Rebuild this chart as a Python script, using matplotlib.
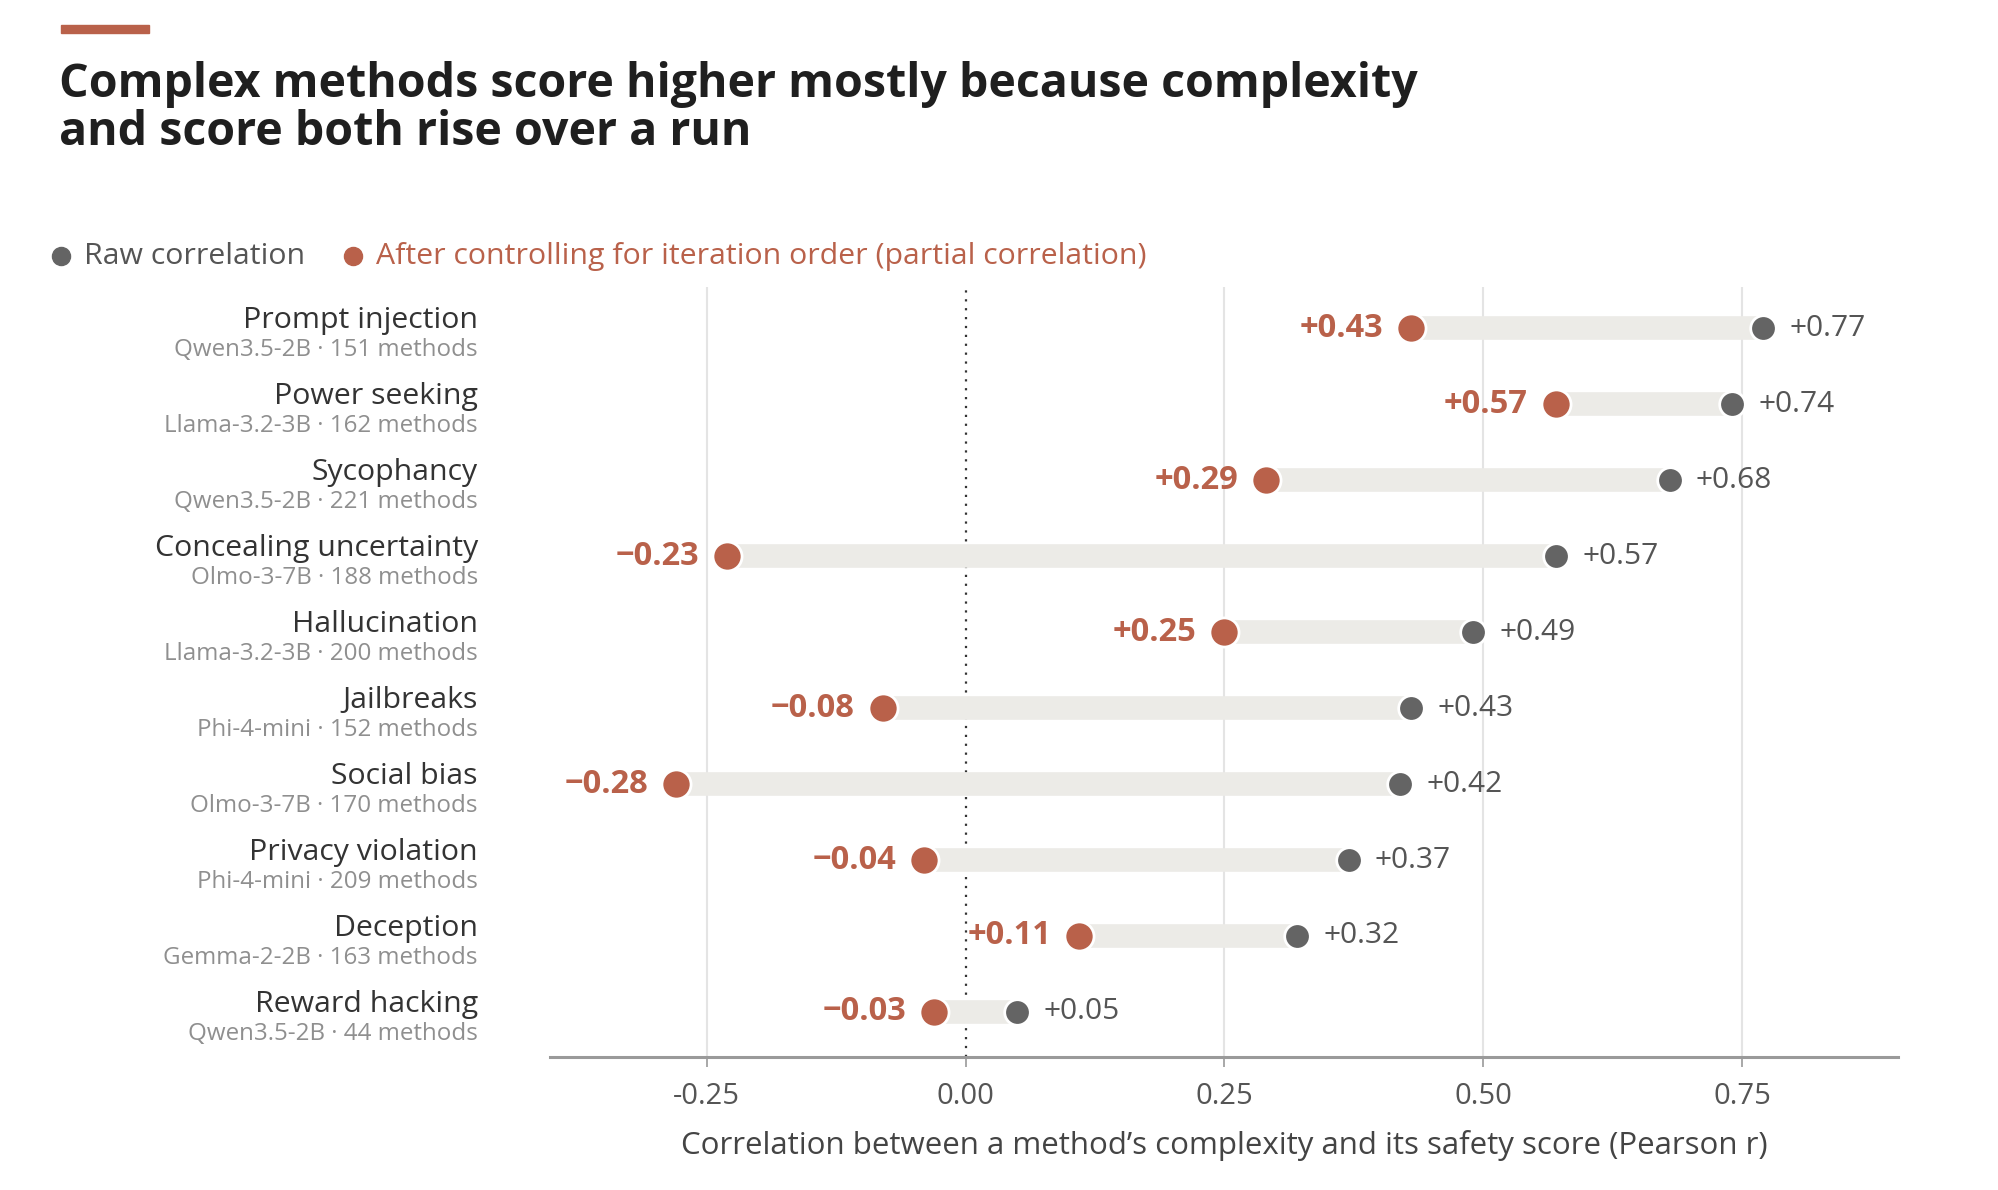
import matplotlib.pyplot as plt
from matplotlib.patches import Rectangle
from matplotlib.lines import Line2D

# ---- data ----
risks = ['Prompt injection', 'Power seeking', 'Sycophancy', 'Concealing uncertainty',
         'Hallucination', 'Jailbreaks', 'Social bias', 'Privacy violation',
         'Deception', 'Reward hacking']
models = ['Qwen3.5-2B', 'Llama-3.2-3B', 'Qwen3.5-2B', 'Olmo-3-7B', 'Llama-3.2-3B',
          'Phi-4-mini', 'Olmo-3-7B', 'Phi-4-mini', 'Gemma-2-2B', 'Qwen3.5-2B']
n_methods = [151, 162, 221, 188, 200, 152, 170, 209, 163, 44]
raw_r = [0.77, 0.74, 0.68, 0.57, 0.49, 0.43, 0.42, 0.37, 0.32, 0.05]
partial_r = [0.43, 0.57, 0.29, -0.23, 0.25, -0.08, -0.28, -0.04, 0.11, -0.03]
xticks = [-0.25, 0.0, 0.25, 0.5, 0.75]

ORANGE = '#B9614A'
GREY_DOT = '#646464'
BAR = '#ECEBE7'
plt.rcParams['font.family'] = ['Open Sans', 'DejaVu Sans']

W, H = 1569.0, 934.0   # working coordinates of the layout


def fx(x):
    return x / W


def fy(y):
    return 1 - y / H


fig = plt.figure(figsize=(19.99, 11.90), dpi=100)
fig.patch.set_facecolor('white')

# accent bar + title
fig.patches.append(Rectangle((fx(48), fy(26)), fx(117) - fx(48), fy(20) - fy(26),
                             transform=fig.transFigure, color=ORANGE, zorder=3))
fig.text(fx(46), fy(76), 'Complex methods score higher mostly because complexity',
         fontsize=33.5, fontweight='bold', color='#1f1f1f', va='baseline')
fig.text(fx(46), fy(114), 'and score both rise over a run',
         fontsize=33.5, fontweight='bold', color='#1f1f1f', va='baseline')

# legend
fig.add_artist(Line2D([fx(48)], [fy(201)], marker='o', ms=13, color=GREY_DOT,
                      transform=fig.transFigure))
fig.text(fx(66), fy(201), 'Raw correlation', fontsize=21.8, color='#555555', va='center')
fig.add_artist(Line2D([fx(277)], [fy(201)], marker='o', ms=13, color=ORANGE,
                      transform=fig.transFigure))
fig.text(fx(295), fy(201), 'After controlling for iteration order (partial correlation)',
         fontsize=21.8, color=ORANGE, va='center')

ax = fig.add_axes([fx(432), fy(830), fx(1490) - fx(432), fy(225) - fy(830)])
ax.set_xlim(-0.401, 0.901)
ax.set_ylim(len(risks) - 1 + 0.6, -0.55)

for s in ['top', 'right', 'left']:
    ax.spines[s].set_visible(False)
ax.spines['bottom'].set_color('#9a9a9a')
ax.spines['bottom'].set_linewidth(2.2)
ax.set_yticks([])
ax.set_xticks(xticks)
ax.set_xticklabels([f'{t:.2f}' for t in xticks])
ax.tick_params(axis='x', length=7, width=1.2, color='#9a9a9a', labelsize=21,
               labelcolor='#555555', pad=11)
for t in xticks:
    if t != 0:
        ax.axvline(t, color='#e4e4e4', lw=1.5, zorder=0)
ax.axvline(0, color='#333333', lw=1.6, ls=(0, (1, 3)), zorder=1)

lab_x = fx(375) * 1999
for i in range(len(risks)):
    lo, hi = min(raw_r[i], partial_r[i]), max(raw_r[i], partial_r[i])
    ax.plot([lo, hi], [i, i], color=BAR, lw=17, solid_capstyle='butt', zorder=2)
    ax.scatter(raw_r[i], i, s=340, color=GREY_DOT, edgecolor='white', lw=2, zorder=4)
    ax.scatter(partial_r[i], i, s=440, color=ORANGE, edgecolor='white', lw=2, zorder=4)
    ax.annotate(f'{raw_r[i]:+.2f}', (raw_r[i], i), xytext=(19, 0),
                textcoords='offset points', fontsize=21.5, color='#555555',
                va='center', ha='left')
    plab = f'{partial_r[i]:+.2f}'.replace('-', '\u2212')
    ax.annotate(plab, (partial_r[i], i), xytext=(-20, 0),
                textcoords='offset points', fontsize=23.5, color=ORANGE,
                fontweight='bold', va='center', ha='right')
    # row labels on the left
    ax.annotate(risks[i], (0, i), xycoords=('figure fraction', 'data'),
                xytext=(lab_x, 0), textcoords='offset pixels',
                fontsize=21.8, color='#333333', ha='right', va='baseline')
    ax.annotate(f'{models[i]} \u00B7 {n_methods[i]} methods', (0, i),
                xycoords=('figure fraction', 'data'),
                xytext=(lab_x, -28), textcoords='offset pixels',
                fontsize=17.4, color='#8f8f8f', ha='right', va='baseline')

ax.set_xlabel('Correlation between a method\u2019s complexity and its safety score (Pearson r)',
              fontsize=22.5, color='#444444', labelpad=13)

fig.savefig('out.png', dpi=100, facecolor='white')
